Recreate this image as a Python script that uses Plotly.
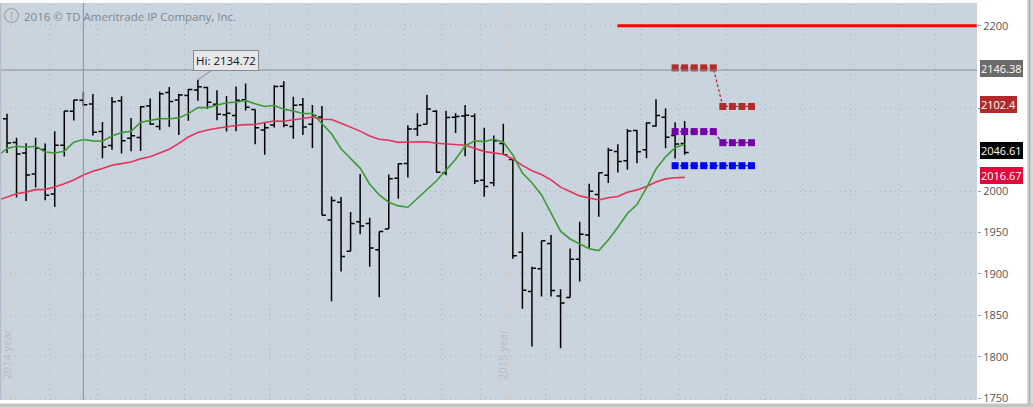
import plotly.graph_objects as go

# ---------------- data (weekly bars) ----------------
weeks = list(range(1, 73))
opens = [2087.63, 2058.90, 2046.13, 2020.76, 2050.42, 1996.67, 2055.47, 2096.47, 2109.83, 2105.23,
         2072.25, 2055.35, 2109.33, 2064.11, 2064.87, 2102.94, 2078.26, 2119.29, 2110.23, 2115.56,
         2122.27, 2125.34, 2105.13, 2092.34, 2091.34, 2110.64, 2098.63, 2073.95, 2080.03, 2126.85,
         2078.19, 2104.49, 2080.98, 2089.70, 1965.15, 1986.73, 1927.30, 1963.06, 1960.84, 1929.18,
         1954.33, 2015.65, 2033.47, 2075.08, 2080.76, 2096.56, 2022.08, 2089.41, 2090.95, 2090.42,
         2013.37, 2010.27, 2057.77, 2038.20, 1926.12, 1878.93, 1906.28, 1936.94, 1873.25, 1871.44,
         1917.83, 1947.13, 1996.11, 2019.27, 2047.88, 2036.89, 2073.19, 2050.23, 2078.83, 2089.37,
         2067.17, 2057.55]
highs = [2093.55, 2064.43, 2058.00, 2064.62, 2057.62, 2072.40, 2096.99, 2110.61, 2119.59, 2117.52,
         2083.49, 2113.92, 2114.86, 2088.30, 2102.61, 2111.91, 2120.49, 2125.92, 2117.66, 2123.89,
         2134.72, 2126.22, 2121.92, 2115.02, 2126.65, 2130.01, 2098.63, 2083.00, 2128.00, 2132.82,
         2114.24, 2112.66, 2104.18, 2102.87, 1993.48, 1993.00, 1975.01, 2020.86, 1968.00, 1951.36,
         2020.13, 2033.54, 2079.74, 2094.32, 2116.48, 2097.70, 2097.06, 2094.12, 2104.27, 2094.00,
         2076.72, 2067.36, 2081.56, 2038.20, 1950.33, 1908.85, 1940.24, 1947.20, 1881.60, 1930.68,
         1962.96, 2009.13, 2022.37, 2052.36, 2056.60, 2075.07, 2074.02, 2083.43, 2111.05, 2099.89,
         2083.42, 2084.87]
lows = [2046.04, 1992.44, 1988.12, 2004.49, 1989.18, 1980.90, 2041.88, 2085.44, 2103.00, 2067.27,
        2039.69, 2050.00, 2045.50, 2048.38, 2048.70, 2079.94, 2073.96, 2077.52, 2067.93, 2085.00,
        2109.26, 2099.18, 2085.67, 2072.14, 2072.49, 2097.40, 2056.64, 2044.02, 2077.00, 2077.20,
        2063.52, 2067.91, 2052.09, 1970.89, 1867.01, 1903.07, 1927.30, 1948.00, 1908.77, 1871.91,
        1954.33, 1990.73, 2016.61, 2066.69, 2080.76, 2022.63, 2019.39, 2070.29, 2042.35, 2008.80,
        1993.26, 2005.93, 2043.62, 1918.46, 1857.83, 1812.29, 1872.65, 1872.65, 1810.10, 1871.44,
        1891.00, 1931.81, 1969.26, 2010.00, 2022.49, 2026.00, 2033.80, 2039.74, 2078.00, 2052.00,
        2039.45, 2043.99]
closes = [2058.20, 2044.81, 2019.42, 2051.82, 1994.99, 2055.47, 2096.99, 2110.30, 2104.50, 2071.26,
          2053.40, 2108.10, 2061.02, 2066.96, 2102.06, 2081.18, 2117.69, 2108.29, 2116.10, 2122.73,
          2126.06, 2107.39, 2092.83, 2094.11, 2109.99, 2101.49, 2076.78, 2076.62, 2126.64, 2079.65,
          2103.84, 2077.57, 2091.54, 1970.89, 1988.87, 1921.22, 1961.05, 1958.03, 1931.34, 1951.36,
          2014.89, 2033.11, 2075.15, 2079.36, 2099.20, 2023.04, 2089.17, 2090.11, 2091.69, 2012.37,
          2005.55, 2060.99, 2043.94, 1922.03, 1880.33, 1906.90, 1940.24, 1880.05, 1864.78, 1917.78,
          1948.05, 1999.99, 2022.19, 2049.58, 2035.94, 2072.78, 2047.60, 2082.42, 2091.58, 2065.30,
          2057.14, 2046.61]

# moving-average lines (values read per bar, starting one bar before the first visible bar)
ma_x = list(range(0, 73))
ma_green = [2042.26, 2051.62, 2054.29, 2053.04, 2054.24, 2047.39, 2046.18, 2048.35, 2059.14, 2062.53,
            2060.78, 2060.30, 2066.63, 2070.79, 2072.30, 2083.01, 2085.58, 2087.65, 2087.45, 2088.61,
            2093.75, 2101.02, 2100.95, 2104.13, 2106.84, 2107.64, 2109.67, 2105.58, 2102.41, 2103.46,
            2099.16, 2096.93, 2093.95, 2093.82, 2081.50, 2069.39, 2051.36, 2039.79, 2027.93, 2008.40,
            1995.57, 1986.68, 1982.23, 1980.59, 1991.44, 2002.47, 2012.65, 2025.47, 2038.67, 2054.71,
            2060.81, 2059.88, 2062.66, 2059.54, 2043.81, 2021.92, 2010.31, 1995.42, 1974.41, 1951.72,
            1942.26, 1936.51, 1930.41, 1928.23, 1940.99, 1956.55, 1973.14, 1983.87, 2004.11, 2026.79,
            2041.54, 2052.45, 2057.11]
ma_red = [1988.88, 1993.37, 1996.99, 1998.88, 2001.91, 2002.23, 2005.16, 2009.12, 2013.51, 2019.49,
          2024.15, 2027.43, 2031.42, 2033.34, 2035.31, 2039.20, 2041.56, 2046.05, 2050.73, 2057.73,
          2065.59, 2070.98, 2073.96, 2075.99, 2077.80, 2079.35, 2080.48, 2080.52, 2083.00, 2084.87,
          2084.56, 2086.08, 2087.18, 2089.58, 2086.88, 2086.68, 2082.20, 2077.67, 2072.60, 2066.82,
          2062.83, 2061.54, 2059.04, 2059.51, 2059.93, 2059.83, 2057.89, 2056.94, 2056.34, 2055.52,
          2051.85, 2047.83, 2046.28, 2044.65, 2038.92, 2031.26, 2024.77, 2020.22, 2013.67, 2004.94,
          1999.55, 1994.35, 1991.77, 1989.46, 1992.08, 1993.65, 1998.70, 2001.58, 2005.73, 2011.07,
          2014.87, 2016.28, 2016.73]

# projection levels
resist_x = [64.95, 102.6]
resist_y = [2200, 2200]
proj_x = [71, 72, 73, 74, 75, 76, 77, 78, 79]
proj_red = [2149.0, 2149.0, 2149.0, 2149.0, 2149.0, 2102.4, 2102.4, 2102.4, 2102.4]
proj_purple = [2072.0, 2072.0, 2072.0, 2072.0, 2072.0, 2058.6, 2058.6, 2058.6, 2058.6]
proj_blue = [2030.8] * 9

# labels
hi_bar, hi_value = 21, 2134.72
cursor_bar, cursor_price = 9, 2146.38
badge_values = [2146.38, 2102.4, 2046.61, 2016.67]
badge_texts = ["2146.38", "2102.4", "2046.61", "2016.67"]
badge_colors = ["#6b6b6b", "#b02a2a", "#000000", "#e0083c"]
y_ticks = [1750, 1800, 1850, 1900, 1950, 2000, 2100, 2200]
year_lines = [1.55, 53.55]
year_labels = ["2014 year", "2015 year"]
vgrid = [5.5, 10.5, 15.5, 19.6, 24.5, 28.5, 32.5, 37.5, 42.6, 46.6, 50.6, 57.5, 61.5,
         67.4, 71.4, 76.4, 80.4, 84.4, 89.4, 94.4, 98.3]

# ---------------- figure ----------------
W, H = 1033, 407
ML, MR, MT, MB = 0, 56, 3, 7
PW, PH = W - ML - MR, H - MT - MB
FONT = "Open Sans"


def px_x(p):
    return p / PW


def px_y(p):
    return (PH + MT - p) / PH


fig = go.Figure()

fig.add_trace(go.Ohlc(
    x=weeks, open=opens, high=highs, low=lows, close=closes,
    increasing=dict(line=dict(color="#000000", width=1.5)),
    decreasing=dict(line=dict(color="#000000", width=1.5)),
    tickwidth=0.42, showlegend=False, hoverinfo="skip"))

fig.add_trace(go.Scatter(x=ma_x, y=ma_red, mode="lines",
                         line=dict(color="#e2345a", width=1.6), hoverinfo="skip"))
fig.add_trace(go.Scatter(x=ma_x, y=ma_green, mode="lines",
                         line=dict(color="#3f9a35", width=1.6), hoverinfo="skip"))

fig.add_trace(go.Scatter(x=resist_x, y=resist_y, mode="lines",
                         line=dict(color="#ff0000", width=3), hoverinfo="skip"))

for ys, col in [(proj_red, "#b12b2b"), (proj_purple, "#7400a6"), (proj_blue, "#0000ff")]:
    fig.add_trace(go.Scatter(x=proj_x, y=ys, mode="lines+markers",
                             line=dict(color=col, width=1.2, dash="3px,2px"),
                             marker=dict(symbol="square", size=7, color=col, line=dict(width=0)),
                             hoverinfo="skip"))

shapes = []
# vertical dotted grid
for g in vgrid:
    shapes.append(dict(type="line", xref="x", yref="paper", x0=g, x1=g, y0=0, y1=1,
                       line=dict(color="#aab4be", width=1, dash="1px,4px"), layer="below"))
# year separators
for yl in year_lines:
    shapes.append(dict(type="line", xref="x", yref="paper", x0=yl, x1=yl, y0=0, y1=1,
                       line=dict(color="#d6cec4", width=1.5, dash="7px,4px"), layer="below"))
# cursor cross-hair
shapes.append(dict(type="line", xref="x", yref="paper", x0=cursor_bar, x1=cursor_bar, y0=0, y1=1,
                   line=dict(color="#868f97", width=1)))
shapes.append(dict(type="line", xref="paper", yref="y", x0=0, x1=1, y0=cursor_price, y1=cursor_price,
                   line=dict(color="#868f97", width=1)))
# copyright icon
shapes.append(dict(type="circle", xref="paper", yref="paper",
                   x0=px_x(4.5), x1=px_x(18.5), y0=px_y(22.5), y1=px_y(8.5),
                   line=dict(color="#9aa3ac", width=1.2)))
# window borders
shapes.append(dict(type="rect", xref="paper", yref="paper",
                   x0=px_x(1027), x1=px_x(1033), y0=px_y(407), y1=px_y(0),
                   fillcolor="#d9d9d9", line=dict(width=0)))
shapes.append(dict(type="line", xref="paper", yref="paper",
                   x0=px_x(1029.5), x1=px_x(1029.5), y0=px_y(407), y1=px_y(0),
                   line=dict(color="#a9a9a9", width=1.5)))
shapes.append(dict(type="rect", xref="paper", yref="paper",
                   x0=px_x(0), x1=px_x(1033), y0=px_y(407), y1=px_y(403.5),
                   fillcolor="#c4c4c4", line=dict(width=0)))
shapes.append(dict(type="line", xref="paper", yref="paper",
                   x0=px_x(0.5), x1=px_x(0.5), y0=0, y1=1,
                   line=dict(color="#b5bcc3", width=1.5)))

annotations = []
annotations.append(dict(xref="paper", yref="paper", x=px_x(22), y=px_y(16), xanchor="left",
                        yanchor="middle", showarrow=False,
                        text="2016 © TD Ameritrade IP Company, Inc.",
                        font=dict(family=FONT, size=11.5, color="#7d8790")))
annotations.append(dict(xref="paper", yref="paper", x=px_x(11.5), y=px_y(15.5), xanchor="center",
                        yanchor="middle", showarrow=False, text="!",
                        font=dict(family=FONT, size=11, color="#9aa3ac")))
for yl, lab in zip(year_lines, year_labels):
    annotations.append(dict(xref="x", yref="paper", x=yl - 0.7, y=px_y(354), textangle=-90,
                            xanchor="center", yanchor="middle", showarrow=False, text=lab,
                            font=dict(family=FONT, size=11, color="#b4bdc6")))
annotations.append(dict(xref="x", yref="y", x=hi_bar, y=hi_value, ax=28, ay=-19,
                        showarrow=True, arrowhead=0, arrowwidth=1, arrowcolor="#8a8a8a", standoff=0,
                        text="Hi: " + f"{hi_value:.2f}", bgcolor="#e6e8eb", bordercolor="#8a8a8a",
                        borderwidth=1, borderpad=2,
                        font=dict(family=FONT, size=11.5, color="#111111")))
for v, t, c in zip(badge_values, badge_texts, badge_colors):
    annotations.append(dict(xref="paper", yref="y", x=1, y=v, xanchor="left", yanchor="middle",
                            xshift=3, yshift=2, showarrow=False, text=t, bgcolor=c,
                            bordercolor=c, borderwidth=1, borderpad=0,
                            font=dict(family=FONT, size=11, color="#ffffff")))

fig.update_layout(
    width=W, height=H, margin=dict(l=ML, r=MR, t=MT, b=MB, pad=0),
    paper_bgcolor="#ffffff", plot_bgcolor="#c9d4de", showlegend=False,
    font=dict(family=FONT),
    xaxis=dict(range=[0.2666, 102.63], visible=False, rangeslider=dict(visible=False),
               fixedrange=True),
    yaxis=dict(side="right", range=[1747.7, 2227.4], tickvals=y_ticks,
               showgrid=True, gridcolor="#aab4be", griddash="1px,4px", gridwidth=1,
               ticks="outside", ticklen=3, tickcolor="#9aa0a6", zeroline=False,
               tickfont=dict(family=FONT, size=11, color="#555555"), fixedrange=True),
    shapes=shapes, annotations=annotations,
)

fig.write_html("out.html", config={"displayModeBar": False},
               post_script="document.body.style.margin='0';document.body.style.overflow='hidden';")
